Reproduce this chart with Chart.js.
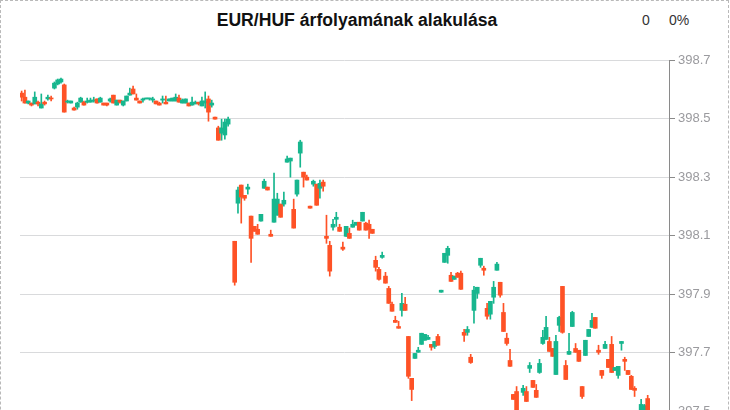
<!DOCTYPE html>
<html lang="hu">
<head>
<meta charset="utf-8">
<title>EUR/HUF árfolyamának alakulása</title>
<script src="https://cdn.jsdelivr.net/npm/chart.js@4.4.1/dist/chart.umd.min.js"></script>
<style>
  html, body { margin: 0; padding: 0; background: #fff; overflow: hidden; }
  #wrap  { position: relative; width: 730px; height: 410px; overflow: hidden; font-family: "Liberation Sans", Arial, sans-serif; }
  .frame { position: absolute; left: 0; top: 0; width: 729px; height: 520px; border: 1px dashed #b9b9b9; box-sizing: border-box; }
  .title { position: absolute; left: 0; top: 9px; width: 714px; text-align: center; font-size: 17.6px; font-weight: bold; color: #111; line-height: 22px; }
  .chg   { position: absolute; top: 11px; font-size: 14px; color: #333; line-height: 18px; }
  .plot  { position: absolute; left: 0; top: 0; width: 730px; height: 470px; }
</style>
</head>
<body>
<div id="wrap">
  <div class="frame"></div>
  <div class="title">EUR/HUF árfolyamának alakulása</div>
  <div class="chg" style="left:642px">0</div>
  <div class="chg" style="left:669px">0%</div>
  <div class="plot"><canvas id="fxChart" width="730" height="470"></canvas></div>
</div>

<script>
'use strict';

/* ── Data (one entry per candle, null = empty slot) ── */
const opens = [
  398.587, 398.573, 398.553, 398.553, 398.550, 398.556, 398.536, 398.556, 398.567, 398.570,
  398.604, 398.618, 398.625, 398.615, 398.556, 398.553, 398.536, 398.539, 398.556, 398.556,
  398.556, 398.556, 398.560, 398.567, 398.556, 398.553, 398.553, 398.560, 398.580, 398.546,
  398.563, 398.546, 398.560, 398.580, 398.601, 398.570, 398.560, 398.563, 398.567, 398.567,
  398.563, 398.560, 398.553, 398.563, 398.556, 398.560, 398.560, 398.560, 398.570, 398.553,
  398.553, 398.553, 398.546, 398.550, 398.556, 398.543, 398.553, 398.567, 398.546, 398.505,
  398.468, 398.450, 398.444, 398.481, null,
  398.081, 398.211, 398.273, 398.238, 398.259, 398.167, 398.132, 398.122, 398.150, 398.262,
  398.266, 398.105, 398.146, 398.170, 398.208, 398.208, 398.351, 398.355, 398.190, 398.242,
  398.382, 398.317, 398.300, 398.201, 398.276, 398.276, 398.262, 398.283, 398.098, 398.067,
  398.129, 398.156, 398.129, 398.061, 398.098, 398.108, 398.129, 398.136, 398.146, 398.150,
  398.143, 398.139, 398.122, 398.016, 397.985, 398.026, 397.962, 397.920, 397.866, 397.811,
  397.790, 397.845, 397.866, 397.756, 397.613, 397.681, 397.702, 397.729, 397.743, 397.746,
  397.729, 397.722, 397.756, 397.907, 398.009, 398.033, 397.965, 397.951, 397.972, 397.972,
  397.770, 397.770, 397.685, 397.845, 397.903, 397.999, 397.989, 397.852, 397.832, 397.890,
  397.982, 397.941, 397.838, 397.750, 397.674, 397.558, 397.568, null,
  397.565, 397.568, 397.647, 397.606, 397.572, 397.633, 397.732, 397.746, 397.739, 397.715,
  397.626, 397.794, 397.927, 397.657, 397.695, 397.790, 397.715, 397.709, 397.585, 397.691,
  397.756, 397.787, 397.821, 397.709, 397.640, 397.715, 397.678, 397.729, 397.640, 397.623,
  397.732, 397.678, 397.640, 397.620, 397.579, null,
  397.486, 397.497, 397.544
];
const highs = [
  398.594, 398.597, 398.560, 398.553, 398.591, 398.560, 398.584, 398.560, 398.580, 398.577,
  398.625, 398.635, 398.638, 398.618, 398.563, 398.560, 398.539, 398.556, 398.573, 398.560,
  398.570, 398.570, 398.573, 398.567, 398.573, 398.553, 398.553, 398.570, 398.580, 398.563,
  398.563, 398.560, 398.577, 398.604, 398.611, 398.584, 398.560, 398.570, 398.570, 398.570,
  398.573, 398.560, 398.556, 398.577, 398.577, 398.567, 398.570, 398.584, 398.580, 398.567,
  398.567, 398.553, 398.573, 398.560, 398.556, 398.573, 398.591, 398.577, 398.563, 398.505,
  398.474, 398.498, 398.498, 398.505, null,
  398.081, 398.266, 398.273, 398.238, 398.276, 398.167, 398.132, 398.139, 398.173, 398.293,
  398.266, 398.119, 398.314, 398.245, 398.208, 398.249, 398.372, 398.365, 398.225, 398.290,
  398.426, 398.317, 398.307, 398.201, 398.290, 398.276, 398.290, 398.290, 398.170, 398.081,
  398.156, 398.180, 398.139, 398.078, 398.132, 398.126, 398.153, 398.146, 398.146, 398.180,
  398.146, 398.153, 398.122, 398.030, 397.992, 398.044, 397.975, 397.927, 397.873, 397.825,
  397.808, 397.903, 397.890, 397.756, 397.613, 397.698, 397.719, 397.767, 397.763, 397.760,
  397.729, 397.739, 397.763, 397.914, 398.040, 398.064, 397.975, 397.962, 397.975, 397.979,
  397.780, 397.790, 397.695, 397.927, 397.924, 398.023, 397.996, 397.869, 397.876, 397.944,
  398.009, 397.941, 397.869, 397.767, 397.712, 397.558, 397.585, null,
  397.589, 397.585, 397.667, 397.606, 397.592, 397.678, 397.777, 397.825, 397.753, 397.715,
  397.760, 397.825, 397.927, 397.674, 397.767, 397.842, 397.732, 397.709, 397.585, 397.743,
  397.780, 397.835, 397.821, 397.726, 397.640, 397.739, 397.678, 397.756, 397.650, 397.654,
  397.739, 397.685, 397.640, 397.623, 397.585, null,
  397.541, 397.524, 397.555
];
const lows = [
  398.560, 398.553, 398.550, 398.543, 398.550, 398.543, 398.536, 398.546, 398.563, 398.560,
  398.601, 398.615, 398.621, 398.522, 398.553, 398.553, 398.529, 398.532, 398.556, 398.546,
  398.553, 398.556, 398.556, 398.553, 398.556, 398.546, 398.543, 398.556, 398.553, 398.546,
  398.553, 398.543, 398.560, 398.580, 398.584, 398.563, 398.553, 398.556, 398.567, 398.563,
  398.556, 398.550, 398.546, 398.553, 398.550, 398.560, 398.560, 398.560, 398.556, 398.553,
  398.553, 398.543, 398.546, 398.550, 398.546, 398.543, 398.536, 398.491, 398.539, 398.498,
  398.426, 398.426, 398.430, 398.474, null,
  397.931, 398.177, 398.143, 398.221, 398.242, 398.009, 398.115, 398.105, 398.150, 398.262,
  398.256, 398.098, 398.146, 398.170, 398.163, 398.201, 398.351, 398.300, 398.126, 398.235,
  398.334, 398.266, 398.290, 398.194, 398.269, 398.204, 398.228, 398.252, 398.074, 397.962,
  398.119, 398.132, 398.115, 398.050, 398.098, 398.091, 398.129, 398.136, 398.119, 398.150,
  398.119, 398.091, 398.108, 397.979, 397.948, 398.023, 397.938, 397.869, 397.842, 397.804,
  397.784, 397.825, 397.845, 397.613, 397.537, 397.681, 397.702, 397.729, 397.743, 397.746,
  397.709, 397.715, 397.726, 397.907, 398.009, 398.006, 397.944, 397.951, 397.958, 397.917,
  397.739, 397.760, 397.664, 397.801, 397.886, 397.992, 397.965, 397.815, 397.815, 397.869,
  397.982, 397.890, 397.773, 397.726, 397.654, 397.541, 397.469, null,
  397.555, 397.534, 397.633, 397.582, 397.548, 397.630, 397.729, 397.746, 397.705, 397.688,
  397.626, 397.773, 397.767, 397.609, 397.695, 397.790, 397.702, 397.671, 397.544, 397.691,
  397.756, 397.787, 397.784, 397.695, 397.613, 397.715, 397.650, 397.633, 397.640, 397.613,
  397.709, 397.640, 397.626, 397.575, 397.551, null,
  397.486, 397.497, 397.469
];
const closes = [
  398.573, 398.553, 398.560, 398.546, 398.573, 398.550, 398.550, 398.550, 398.573, 398.567,
  398.621, 398.632, 398.635, 398.522, 398.560, 398.560, 398.529, 398.553, 398.570, 398.546,
  398.560, 398.563, 398.563, 398.553, 398.570, 398.546, 398.546, 398.567, 398.553, 398.563,
  398.556, 398.560, 398.577, 398.587, 398.584, 398.563, 398.553, 398.567, 398.570, 398.570,
  398.567, 398.550, 398.546, 398.567, 398.550, 398.567, 398.570, 398.573, 398.556, 398.563,
  398.567, 398.543, 398.556, 398.556, 398.550, 398.560, 398.560, 398.522, 398.553, 398.498,
  398.426, 398.468, 398.488, 398.498, null,
  397.941, 398.256, 398.232, 398.228, 398.266, 398.091, 398.115, 398.105, 398.173, 398.286,
  398.256, 398.098, 398.225, 398.225, 398.163, 398.221, 398.362, 398.365, 398.126, 398.290,
  398.420, 398.300, 398.290, 398.194, 398.286, 398.204, 398.279, 398.269, 398.091, 397.979,
  398.139, 398.163, 398.115, 398.054, 398.132, 398.091, 398.139, 398.146, 398.119, 398.180,
  398.119, 398.122, 398.108, 397.992, 397.951, 398.033, 397.938, 397.869, 397.842, 397.804,
  397.784, 397.869, 397.845, 397.620, 397.575, 397.698, 397.709, 397.767, 397.763, 397.753,
  397.719, 397.739, 397.726, 397.914, 398.040, 398.057, 397.944, 397.962, 397.958, 397.917,
  397.760, 397.780, 397.667, 397.914, 397.924, 398.023, 397.982, 397.825, 397.876, 397.924,
  398.003, 397.897, 397.773, 397.732, 397.654, 397.541, 397.469, null,
  397.579, 397.534, 397.657, 397.582, 397.548, 397.664, 397.753, 397.787, 397.705, 397.688,
  397.739, 397.821, 397.770, 397.609, 397.705, 397.838, 397.702, 397.671, 397.551, 397.743,
  397.780, 397.811, 397.784, 397.702, 397.623, 397.729, 397.650, 397.633, 397.650, 397.654,
  397.739, 397.671, 397.626, 397.575, 397.572, null,
  397.524, 397.520, 397.486
];

// price axis ticks and the number of time slots on the x axis
const tickValues = [397.5, 397.7, 397.9, 398.1, 398.3, 398.5, 398.7];
const slotCount  = 198;

const UP   = '#17b68e';
const DOWN = '#fe5226';

/* ── Candlestick chart (floating bars: wick + body) ─────────────────────── */
(function initChart() {
  const labels = Array.from({ length: slotCount }, (_, i) => String(i));
  const pad    = v => { const a = v.slice(); while (a.length < slotCount) a.push(null); return a; };

  const colors = opens.map((o, i) => (o == null ? 'rgba(0,0,0,0)' : (closes[i] >= o ? UP : DOWN)));
  const wicks  = pad(lows.map((l, i) => (l == null ? null : [l, highs[i]])));
  const bodies = pad(opens.map((o, i) => (o == null ? null : [o, closes[i]])));

  new Chart(document.getElementById('fxChart'), {
    type: 'bar',
    data: {
      labels,
      datasets: [
        { data: wicks,  backgroundColor: colors, barThickness: 1, grouped: false, order: 2 },
        { data: bodies, backgroundColor: colors, barThickness: 4, minBarLength: 1, grouped: false, order: 1 }
      ]
    },
    options: {
      responsive: false,
      animation: false,
      devicePixelRatio: 1,
      layout: { padding: { left: 20, top: 60, right: 0, bottom: 0 } },
      plugins: { legend: { display: false }, tooltip: { enabled: false }, title: { display: false } },
      scales: {
        x: { display: false, offset: true },
        y: {
          position: 'right',
          min: 397.3,
          max: 398.7,
          afterBuildTicks: s => { s.ticks = tickValues.map(v => ({ value: v })); },
          // fixed axis width; no extra room reserved for the edge labels
          afterFit: s => { s.width = 61; s.paddingTop = 0; s.paddingBottom = 0; },
          ticks: {
            color: '#9a9a9e',
            padding: 3,
            font: { family: '"Liberation Sans", Arial, sans-serif', size: 13 },
            callback: v => Number(v).toFixed(1)
          },
          grid: { color: '#d9dadc', tickColor: '#8a8a8a', tickLength: 6, drawTicks: true },
          border: { color: '#8a8a8a', width: 1 }
        }
      }
    }
  });
})();
</script>
</body>
</html>
